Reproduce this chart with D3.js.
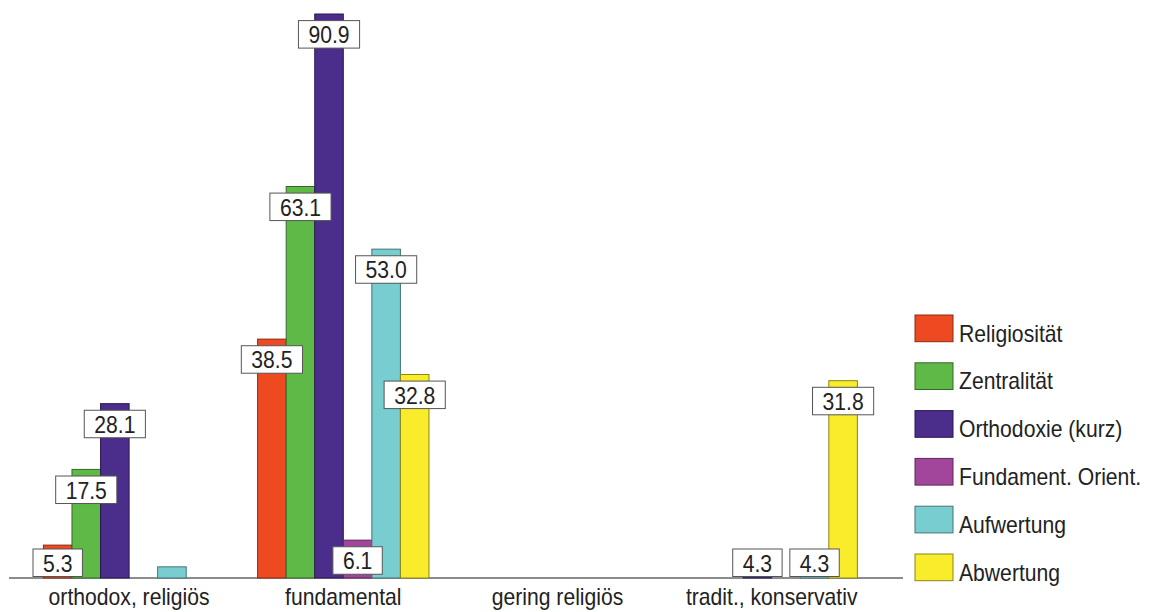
<!DOCTYPE html>
<html>
<head>
<meta charset="utf-8">
<script src="https://cdnjs.cloudflare.com/ajax/libs/d3/7.8.5/d3.min.js"></script>
<style>
  html, body { margin: 0; padding: 0; background: #fff; }
  svg { display: block; }
  text { font-family: "Liberation Sans", Arial, sans-serif; fill: #222; }
</style>
</head>
<body>
<svg id="chart" width="1154" height="612"></svg>
<script>
const categories = ["orthodox, religiös", "fundamental", "gering religiös", "tradit., konservativ"];
const seriesNames = ["Religiosität", "Zentralität", "Orthodoxie (kurz)", "Fundament. Orient.", "Aufwertung", "Abwertung"];
const seriesColors = ["#EE4A22", "#5EB946", "#4B2D8B", "#A1469A", "#78CDD0", "#F8EC2B"];
const religiositaet = [5.3, 38.5, 0, 0];
const zentralitaet = [17.5, 63.1, 0, 0];
const orthodoxie = [28.1, 90.9, 0, 4.3];
const fundament = [0, 6.1, 0, 0];
const aufwertung = [1.8, 53.0, 0, 4.3];
const abwertung = [0, 32.8, 0, 31.8];
const seriesValues = [religiositaet, zentralitaet, orthodoxie, fundament, aufwertung, abwertung];

const FS = 23, SX = 0.92;
const svg = d3.select("#chart");
const baseY = 578;

const x0 = d3.scaleBand().domain(categories).range([22, 878.8]).paddingInner(0.2).paddingOuter(0.1);
const x1 = d3.scaleBand().domain(seriesNames).range([0, x0.bandwidth()]).padding(0);
const y = d3.scaleLinear().domain([0, 90.9]).range([baseY, 14]);
const color = d3.scaleOrdinal().domain(seriesNames).range(seriesColors);

const rows = [];
categories.forEach((c, ci) => {
  seriesNames.forEach((s, si) => {
    rows.push({ cat: c, series: s, value: seriesValues[si][ci] });
  });
});

// baseline
svg.append("line")
  .attr("x1", 9).attr("x2", 903)
  .attr("y1", baseY).attr("y2", baseY)
  .attr("stroke", "#666").attr("stroke-width", 1.5);

// bars
svg.append("g").selectAll("rect").data(rows).join("rect")
  .attr("x", d => x0(d.cat) + x1(d.series))
  .attr("y", d => y(d.value))
  .attr("width", x1.bandwidth())
  .attr("height", d => baseY - y(d.value))
  .attr("fill", d => color(d.series))
  .attr("stroke", d => d3.color(color(d.series)).darker(1.6))
  .attr("stroke-width", 1);

// category labels
svg.append("g").selectAll("text").data(categories).join("text")
  .attr("transform", d => `translate(${x0(d) + x0.bandwidth() / 2},605) scale(${SX},1)`)
  .attr("text-anchor", "middle")
  .style("font-size", FS + "px")
  .text(d => d);

// value labels
const lab = svg.append("g").selectAll("g").data(rows.filter(d => d.value >= 3)).join("g");
lab.each(function(d) {
  const g = d3.select(this);
  const cx = x0(d.cat) + x1(d.series) + x1.bandwidth() / 2;
  const top = Math.min(y(d.value) + 6.6, baseY - 29);
  const t = g.append("text")
    .attr("transform", `translate(${cx},${top + 22.6}) scale(${SX},1)`)
    .attr("text-anchor", "middle")
    .style("font-size", FS + "px")
    .text(d.value.toFixed(1));
  const w = t.node().getComputedTextLength() * SX + 20;
  g.insert("rect", "text")
    .attr("x", cx - w / 2).attr("y", top)
    .attr("width", w).attr("height", 27.5)
    .attr("fill", "#fff").attr("stroke", "#555").attr("stroke-width", 1);
});

// legend
const leg = svg.append("g").selectAll("g").data(seriesNames).join("g")
  .attr("transform", (d, i) => `translate(915,${315 + i * 47.8})`);
leg.append("rect")
  .attr("width", 38).attr("height", 26.7)
  .attr("fill", d => color(d))
  .attr("stroke", d => d3.color(color(d)).darker(1.6))
  .attr("stroke-width", 1);
leg.append("text")
  .attr("transform", `translate(44,26.5) scale(${SX},1)`)
  .style("font-size", FS + "px")
  .text(d => d);
</script>
</body>
</html>
